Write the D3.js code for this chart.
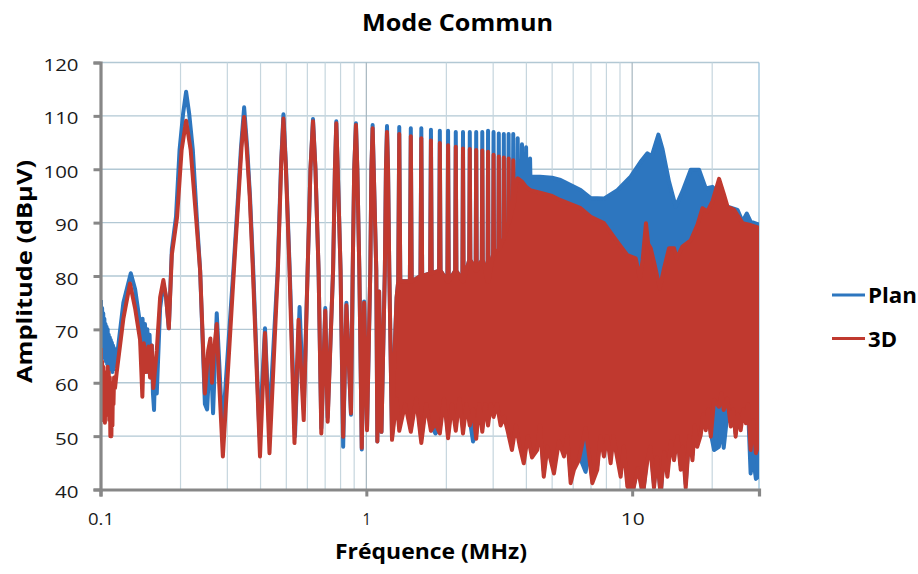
<!DOCTYPE html>
<html>
<head>
<meta charset="utf-8">
<script src="https://cdn.jsdelivr.net/npm/d3@7"></script>
<style>
  body { margin: 0; background: #fff; }
  svg { display: block; font-family: "Open Sans", sans-serif; }
</style>
</head>
<body>
<svg id="chart" width="918" height="574"></svg>
<script>
// Axis values
const ampTicks = [40, 50, 60, 70, 80, 90, 100, 110, 120];
const freqLabels = [0.1, 1, 10];
const freqGrid = [0.2, 0.3, 0.4, 0.5, 0.6, 0.7, 0.8, 0.9, 1, 2, 3, 4, 5, 6, 7, 8, 9, 10, 20];
const seriesNames = ["Plan", "3D"];
const seriesColors = ["#2d76bf", "#c0392f"];

// Plan : upper trace of the spectrum [MHz, dBµV]
const planTrace = [
  [0.1004, 75.5], [0.1009, 67], [0.1014, 74], [0.1019, 66], [0.1024, 73], [0.1029, 65], [0.1034, 72],
  [0.1039, 64.5], [0.1044, 71], [0.1049, 64], [0.1054, 70.5], [0.1059, 63.5], [0.1064, 70], [0.1069, 63],
  [0.1074, 69], [0.1079, 63], [0.1084, 68.5], [0.1089, 62.5], [0.1094, 68], [0.1099, 62.5], [0.1104, 67.5],
  [0.1109, 62], [0.1114, 67], [0.1119, 62.5], [0.1124, 66.5], [0.1129, 63], [0.1134, 66], [0.1151, 64.5],
  [0.1219, 75], [0.130, 80.5], [0.135, 77.5], [0.1409, 71],
  [0.1425, 65], [0.144, 72], [0.1455, 64], [0.147, 71], [0.1485, 63], [0.150, 70], [0.1515, 62], [0.153, 69],
  [0.1545, 61], [0.156, 67], [0.1575, 58], [0.159, 54.9], [0.1605, 63], [0.1628, 58], [0.1676, 74],
  [0.1724, 78.5], [0.1765, 76], [0.1807, 70.2],
  [0.1855, 85], [0.1923, 91.1], [0.1983, 103.6], [0.2046, 110.5], [0.2099, 114.5], [0.2155, 110.5],
  [0.2225, 103.6], [0.2302, 91.1], [0.2370, 81.1], [0.2470, 56],
  [0.2518, 55], [0.2591, 67], [0.2651, 54.3], [0.2737, 73.0], [0.2795, 64], [0.2845, 56], [0.2886, 52],
  [0.3170, 82], [0.3293, 95], [0.3376, 104], [0.347, 111.6], [0.3563, 104], [0.3650, 95], [0.3749, 82], [0.3964, 50],
  [0.4157, 70.2], [0.4306, 52],
  [0.4639, 81], [0.4777, 101], [0.4877, 110.3], [0.4982, 101], [0.5150, 81], [0.5391, 50],
  [0.5609, 74.2], [0.5814, 55],
  [0.6013, 81], [0.6163, 100], [0.6300, 109.4], [0.6437, 100], [0.6613, 81], [0.6771, 51.5],
  [0.7007, 74.0], [0.7154, 53.5],
  [0.7497, 81], [0.7617, 100], [0.7710, 109.0], [0.7806, 100], [0.8001, 81], [0.8182, 48.0],
  [0.8414, 75.0], [0.8755, 54.0],
  [0.8886, 81], [0.9003, 100], [0.914, 108.6], [0.9250, 100], [0.9412, 81], [0.9613, 47.5],
  [0.9810, 75.2], [1.006, 51.5],
  [1.035, 81], [1.045, 100], [1.056, 108.3], [1.066, 100], [1.090, 81], [1.100, 49.0],
  [1.117, 77.1], [1.140, 50.8],
  [1.174, 81], [1.185, 100], [1.196, 108.1], [1.207, 100], [1.220, 81], [1.249, 50],
  [1.27, 63], [1.30, 76], [1.318, 79], [1.33, 107.9], [1.342, 79], [1.458, 79], [1.47, 107.7], [1.482, 79],
  [1.598, 80], [1.61, 107.7], [1.622, 80], [1.738, 80.5], [1.75, 107.4], [1.762, 80.5],
  [1.878, 81], [1.89, 107.2], [1.902, 81], [2.018, 79], [2.03, 107.2], [2.042, 79],
  [2.158, 81], [2.17, 107.0], [2.182, 81], [2.298, 79], [2.31, 107.0], [2.322, 79],
  [2.438, 83], [2.45, 107.0], [2.462, 83], [2.578, 81], [2.59, 107.0], [2.602, 81],
  [2.718, 83], [2.73, 107.0], [2.742, 83], [2.858, 79], [2.87, 107.2], [2.882, 79],
  [2.998, 84], [3.01, 107.0], [3.022, 84], [3.138, 85], [3.15, 106.7], [3.162, 85],
  [3.278, 87], [3.29, 106.6], [3.302, 87], [3.418, 90], [3.43, 106.6], [3.442, 90],
  [3.558, 93], [3.57, 106.6], [3.582, 93], [3.698, 95], [3.71, 105.8], [3.722, 95],
  [3.838, 96], [3.85, 104.7], [3.862, 96], [3.978, 97], [3.99, 104.1], [4.002, 97],
  [4.118, 98], [4.13, 102.0], [4.142, 98.6], [4.5, 98.6], [5.0, 98.4], [5.38, 98.0], [6.4, 96.1],
  [6.98, 94.6], [7.83, 94.5], [8.8, 96.1], [9.87, 98.6], [10.76, 101.4], [11.41, 103.0], [11.84, 102.4],
  [12.55, 106.5], [12.99, 103.9], [13.76, 97.7], [14.58, 93.0], [15.45, 95.8], [16.61, 99.9], [17.85, 99.9],
  [18.92, 96.4], [20.05, 96.7], [21.2, 95.5], [22.84, 93.0], [24.9, 92.4], [26.01, 90.2], [27.0, 91.7],
  [27.9, 90.2], [30, 89.6]
];

// 3D : upper trace of the spectrum [MHz, dBµV]
const trace3D = [
  [0.1004, 66.5], [0.1009, 55], [0.1014, 64], [0.1019, 53], [0.1024, 63], [0.1029, 54], [0.1034, 62],
  [0.1039, 52.5], [0.1044, 61.5], [0.1049, 55], [0.1054, 62], [0.1059, 54], [0.1064, 63], [0.1069, 55],
  [0.1074, 62], [0.1079, 53], [0.1084, 61], [0.1089, 50], [0.1094, 60], [0.1099, 50], [0.1104, 59],
  [0.1109, 52], [0.1114, 60], [0.1119, 56], [0.1125, 61], [0.1134, 59],
  [0.1151, 62], [0.1219, 72], [0.1291, 78.6], [0.1349, 74], [0.1409, 68], [0.1437, 57.4], [0.1455, 67.4],
  [0.1485, 62], [0.1514, 66.8], [0.1536, 61], [0.1558, 67], [0.1580, 59], [0.1628, 66], [0.1676, 76],
  [0.1724, 79.25], [0.1765, 76], [0.1807, 70.2],
  [0.1855, 84], [0.1941, 91], [0.2019, 103.6], [0.2099, 109.1], [0.2184, 103.6], [0.2288, 91], [0.2370, 81], [0.2470, 58],
  [0.2541, 66], [0.2591, 68.3], [0.2627, 60], [0.2673, 66], [0.2737, 71], [0.2795, 60], [0.2886, 46.2],
  [0.3184, 82], [0.3306, 95], [0.3391, 104], [0.347, 109.8], [0.3547, 104], [0.3641, 95], [0.3737, 82], [0.3981, 46.2],
  [0.4157, 69.3], [0.4322, 46.8],
  [0.4647, 81], [0.4785, 101], [0.4877, 109.5], [0.4974, 101], [0.5141, 81], [0.5367, 48.7],
  [0.5558, 71.8], [0.5814, 53.0],
  [0.6013, 81], [0.6163, 100], [0.6300, 109.0], [0.6437, 100], [0.6613, 81], [0.6771, 50.5],
  [0.7007, 73.5], [0.7154, 52.7],
  [0.7497, 81], [0.7617, 100], [0.7710, 108.6], [0.7806, 100], [0.8001, 81], [0.8182, 49.9],
  [0.8414, 74.5], [0.8755, 54.3],
  [0.8886, 81], [0.9003, 100], [0.914, 108.3], [0.9250, 100], [0.9412, 81], [0.9613, 47.8],
  [0.9810, 75.0], [1.006, 51.1],
  [1.035, 81], [1.045, 100], [1.056, 107.7], [1.066, 100], [1.090, 81], [1.100, 49.0],
  [1.117, 77.1], [1.140, 50.8],
  [1.174, 81], [1.185, 100], [1.196, 107.0], [1.207, 100], [1.220, 81], [1.249, 49.3],
  [1.27, 62], [1.30, 76], [1.318, 79], [1.33, 106.6], [1.342, 79], [1.458, 79], [1.47, 106.2], [1.482, 79],
  [1.598, 80], [1.61, 105.8], [1.622, 80], [1.738, 80.5], [1.75, 105.4], [1.762, 80.5],
  [1.878, 81], [1.89, 104.9], [1.902, 81], [2.018, 79], [2.03, 104.5], [2.042, 79],
  [2.158, 81], [2.17, 104.2], [2.182, 81], [2.298, 79], [2.31, 103.9], [2.322, 79],
  [2.438, 83], [2.45, 103.8], [2.462, 83], [2.578, 81], [2.59, 103.6], [2.602, 81],
  [2.718, 83], [2.73, 103.5], [2.742, 83], [2.858, 79], [2.87, 103.3], [2.882, 79],
  [2.998, 84], [3.01, 102.7], [3.022, 84], [3.138, 85], [3.15, 102.4], [3.162, 85],
  [3.278, 87], [3.29, 102.2], [3.302, 87], [3.418, 90], [3.43, 102.0], [3.442, 90],
  [3.558, 93], [3.57, 101.7], [3.582, 93], [3.65, 97], [3.71, 98.3], [3.85, 97.7], [3.99, 96.7],
  [4.13, 96.1], [4.5, 95.6], [5.0, 95.0], [5.38, 94.2], [6.4, 92.7], [6.98, 91.1], [7.61, 90.2],
  [7.83, 89.9], [8.8, 86.4], [9.59, 83.9], [10.31, 83.3], [10.70, 79.6], [10.95, 83], [11.27, 89.9],
  [11.49, 86], [11.74, 85.2], [12.16, 82.0], [12.70, 77.7], [13.18, 81.4], [13.76, 85.2], [14.37, 85.2],
  [14.71, 83.3], [15.45, 85.5], [16.61, 86.7], [17.60, 89.6], [18.38, 92.7], [19.19, 92.1], [20.05, 94.0],
  [21.23, 98.2], [22.17, 95.2], [22.84, 93.0], [24.17, 92.4], [26.01, 89.9], [27.54, 89.6], [30, 89.0]
];

// Lower edge of the dense harmonic band [MHz, Plan, 3D]
const floorTrace = [
  [1.249, 50, 49.3], [1.30, 58, 57], [1.33, 52, 51], [1.40, 57, 56], [1.47, 51.5, 50.8], [1.54, 58, 57],
  [1.61, 49.5, 48.7], [1.68, 57, 56], [1.75, 52, 51], [1.82, 50.5, 52.4], [1.89, 51.5, 50.5], [1.96, 58, 57],
  [2.03, 50.5, 49.6], [2.10, 57, 56], [2.17, 52, 51], [2.24, 58, 57], [2.31, 51.5, 50.5], [2.38, 57, 56],
  [2.45, 53, 52], [2.52, 49, 55], [2.59, 50.5, 49.5], [2.66, 57, 56], [2.73, 51.5, 50.8], [2.80, 57, 56],
  [2.87, 53, 52], [2.94, 57, 56], [3.01, 54.5, 53.6], [3.10, 57, 56], [3.20, 53, 52], [3.30, 54.5, 53.6],
  [3.40, 52, 51], [3.53, 48.5, 47.4], [3.65, 53, 52], [3.78, 49, 48], [3.91, 46, 44.9], [4.05, 51, 50],
  [4.2, 47, 46], [4.39, 48.5, 47.4], [4.5, 53, 52], [4.65, 43.5, 42.4], [4.8, 49, 48], [5.08, 44, 43.0],
  [5.3, 50, 49], [5.54, 47, 46.2], [5.7, 51, 50], [5.87, 42.5, 41.2], [6.04, 44.5, 43.7], [6.30, 46.5, 45.5],
  [6.68, 43.3, 51.5], [6.9, 47, 46], [7.08, 42, 41.2], [7.39, 44.5, 43.7], [7.6, 51, 50], [7.83, 47, 46.2],
  [8.05, 51, 50], [8.30, 46, 44.9], [8.5, 51, 50], [8.67, 48.5, 47.4], [9.05, 43.5, 42.4], [9.3, 49, 48],
  [9.59, 41.5, 40.6], [10.0, 39, 39], [10.5, 45, 44], [10.97, 39, 39], [11.41, 46.5, 45.5], [11.7, 49, 48],
  [12.08, 41, 40.3], [12.4, 47, 46], [12.80, 39, 39], [13.2, 48, 47], [13.57, 43.5, 42.4], [14.0, 50, 49],
  [14.37, 46.5, 45.5], [14.8, 51, 50], [15.23, 44.5, 43.7], [15.5, 49, 48], [15.90, 41, 40.3], [16.4, 51, 50],
  [16.86, 46.5, 45.5], [17.2, 53, 52], [17.56, 49, 48.0], [18.11, 51, 50.2], [18.5, 55, 54], [18.92, 52, 51.1],
  [19.3, 56, 55], [19.76, 50.5, 49.9], [20.33, 47.4, 56.8], [21.2, 48, 55.5], [21.7, 52, 58], [22.1, 47.8, 54.9],
  [22.8, 54, 57], [23.5, 52.5, 51.8], [24.0, 56, 55], [24.5, 50.5, 49.9], [25.0, 55, 54], [25.6, 52, 51.1],
  [26.2, 56, 55], [26.8, 53, 52.4], [27.3, 55, 56], [27.9, 43, 47.4], [28.5, 46, 53], [29.2, 42, 46.8],
  [30, 42.5, 48.7]
];

const svg = d3.select("#chart");
const plotLeft = 100.5, plotRight = 759, plotTop = 62.5, plotBottom = 489.5;

const x = d3.scaleLog().domain([0.1, 30]).range([plotLeft, plotRight]);
const y = d3.scaleLinear().domain([40, 120]).range([plotBottom, plotTop]);

// squeeze/stretch a text to the width it has in the original
function fitWidth(sel, w) {
  sel.attr("textLength", w).attr("lengthAdjust", "spacingAndGlyphs");
}

// gridlines
svg.append("g")
  .selectAll("line")
  .data(ampTicks.slice(1))
  .join("line")
    .attr("x1", plotLeft).attr("x2", plotRight)
    .attr("y1", d => y(d)).attr("y2", d => y(d))
    .attr("stroke", "#b2c8d4")
    .attr("stroke-width", 1.3);
svg.append("g")
  .selectAll("line")
  .data(freqGrid)
  .join("line")
    .attr("x1", d => x(d)).attr("x2", d => x(d))
    .attr("y1", plotTop).attr("y2", plotBottom)
    .attr("stroke", d => (d === 1 || d === 10) ? "#a6b6bf" : "#c6d6de")
    .attr("stroke-width", 1.2);
// right border of plot
svg.append("line")
  .attr("x1", plotRight).attr("x2", plotRight).attr("y1", plotTop).attr("y2", plotBottom)
  .attr("stroke", "#9cc3dc").attr("stroke-width", 1.3);

// clip the traces to the plot area
svg.append("clipPath").attr("id", "plot")
  .append("rect")
    .attr("x", plotLeft).attr("y", plotTop - 5)
    .attr("width", plotRight - plotLeft).attr("height", plotBottom - plotTop + 5);

const line = d3.line()
  .x(d => x(d[0]))
  .y(d => y(d[1]));

// closed outline: upper trace, then the band floor back, then the single-line part back
function outline(trace, col) {
  const split = floorTrace[0][0];
  const floor = floorTrace.map(r => [r[0], r[col]]).reverse();
  const back = trace.filter(p => p[0] < split).reverse();
  return trace.concat(floor, back);
}

const traces = [planTrace, trace3D];
traces.forEach((trace, i) => {
  svg.append("path")
    .attr("clip-path", "url(#plot)")
    .attr("d", line(outline(trace, i + 1)))
    .attr("fill", seriesColors[i])
    .attr("stroke", seriesColors[i])
    .attr("stroke-width", 4)
    .attr("stroke-linejoin", "round");
});

// axes
const yAxis = svg.append("g")
  .attr("transform", `translate(${plotLeft},0)`)
  .call(d3.axisLeft(y).tickValues(ampTicks).tickSize(7).tickPadding(15));
const xAxis = svg.append("g")
  .attr("transform", `translate(0,${plotBottom})`)
  .call(d3.axisBottom(x).tickValues(freqLabels).tickFormat(d => d).tickSize(7).tickPadding(17));

[yAxis, xAxis].forEach(ax => {
  ax.select(".domain").attr("stroke", "#878787").attr("stroke-width", 3.2);
  ax.selectAll(".tick line").attr("stroke", "#878787").attr("stroke-width", 3);
  ax.selectAll(".tick text")
    .attr("fill", "#1a1a1a")
    .style("font-family", "'Open Sans', sans-serif")
    .style("font-size", "16px");
});
yAxis.selectAll(".tick text")
  .attr("dy", "0.5em")
  .each(function(d) { fitWidth(d3.select(this), d >= 100 ? 35 : 23.5); });
xAxis.selectAll(".tick text")
  .each(function(d) { fitWidth(d3.select(this), d === 1 ? 8.5 : d === 10 ? 24 : 26); });

// title
svg.append("text")
  .attr("x", 457.5).attr("y", 31)
  .attr("text-anchor", "middle")
  .style("font-size", "24px").style("font-weight", "bold")
  .text("Mode Commun")
  .call(fitWidth, 191);

// axis titles
svg.append("text")
  .attr("x", 431).attr("y", 559)
  .attr("text-anchor", "middle")
  .style("font-size", "21px").style("font-weight", "bold")
  .text("Fréquence (MHz)")
  .call(fitWidth, 192);
svg.append("text")
  .attr("transform", "translate(32,271.5) rotate(-90)")
  .attr("text-anchor", "middle")
  .style("font-size", "21px").style("font-weight", "bold")
  .text("Amplitude (dBµV)")
  .call(fitWidth, 223);

// legend
const legendWidths = [49, 29];
const legend = svg.append("g")
  .selectAll("g")
  .data(seriesNames)
  .join("g")
    .attr("transform", (d, i) => `translate(832,${295 + i * 43.5})`);
legend.append("line")
  .attr("x1", 0).attr("x2", 33)
  .attr("stroke", (d, i) => seriesColors[i])
  .attr("stroke-width", 3.2);
legend.append("text")
  .attr("x", 36).attr("y", 8)
  .style("font-size", "21px").style("font-weight", "bold")
  .text(d => d)
  .each(function(d, i) { fitWidth(d3.select(this), legendWidths[i]); });
</script>
</body>
</html>
